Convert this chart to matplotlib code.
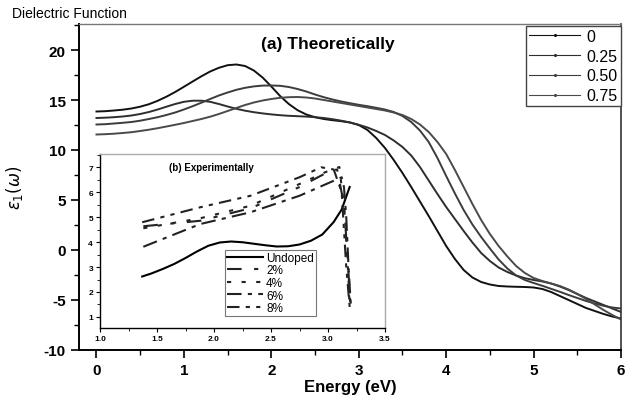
import numpy as np
import matplotlib
matplotlib.use('Agg')
import matplotlib.pyplot as plt
from matplotlib.lines import Line2D
from matplotlib.ticker import MultipleLocator

plt.rcParams['font.family'] = ['Liberation Sans', 'DejaVu Sans']
plt.rcParams['axes.unicode_minus'] = False

# theoretical eps1 vs photon energy, one series per doping level
energy = np.round(np.linspace(0.0, 6.0, 61), 1)
doping_labels = ['0', '0.25', '0.50', '0.75']
eps_0 = [13.85, 13.88, 13.95, 14.03, 14.15, 14.33, 14.58, 14.92, 15.33, 15.8,
         16.32, 16.85, 17.37, 17.85, 18.22, 18.48, 18.55, 18.4, 17.95, 17.25,
         16.35, 15.4, 14.6, 13.98, 13.55, 13.28, 13.1, 12.98, 12.88, 12.75,
         12.5, 12.0, 11.2, 10.2, 9.0, 7.7, 6.3, 4.85, 3.4, 1.9,
         0.4, -0.9, -2.0, -2.75, -3.2, -3.45, -3.6, -3.65, -3.68, -3.7,
         -3.75, -3.9, -4.2, -4.6, -5.0, -5.4, -5.8, -6.1, -6.4, -6.65, -6.85]
eps_25 = [13.2, 13.23, 13.28, 13.35, 13.45, 13.6, 13.8, 14.05, 14.33, 14.6,
          14.82, 14.93, 14.93, 14.82, 14.6, 14.35, 14.12, 13.93, 13.78, 13.66,
          13.56, 13.48, 13.42, 13.38, 13.34, 13.28, 13.2, 13.08, 12.93, 12.75,
          12.52, 12.25, 11.9, 11.5, 10.95, 10.3, 9.45, 8.3, 6.95, 5.6,
          4.3, 3.1, 1.9, 0.75, -0.3, -1.1, -1.75, -2.2, -2.55, -2.82,
          -3.0, -3.15, -3.35, -3.65, -4.0, -4.4, -4.8, -5.15, -5.5, -5.85, -6.2]
eps_50 = [12.55, 12.58, 12.65, 12.72, 12.8, 12.93, 13.1, 13.28, 13.5, 13.75,
          14.05, 14.38, 14.73, 15.1, 15.45, 15.75, 16.02, 16.22, 16.36, 16.44,
          16.45, 16.42, 16.3, 16.1, 15.85, 15.55, 15.28, 15.05, 14.85, 14.68,
          14.52, 14.38, 14.22, 14.05, 13.8, 13.4, 12.8, 11.95, 10.8, 9.2,
          7.4, 5.65, 4.0, 2.55, 1.3, 0.15, -0.95, -1.85, -2.55, -3.0,
          -3.3, -3.58, -3.88, -4.18, -4.5, -4.8, -5.1, -5.35, -5.58, -5.75, -5.85]
eps_75 = [11.55, 11.58, 11.63, 11.7, 11.78, 11.9, 12.03, 12.18, 12.35, 12.52,
          12.7, 12.9, 13.1, 13.33, 13.6, 13.9, 14.2, 14.5, 14.75, 14.95,
          15.1, 15.22, 15.28, 15.3, 15.25, 15.15, 15.0, 14.85, 14.7, 14.55,
          14.4, 14.25, 14.1, 13.95, 13.75, 13.5, 13.1, 12.55, 11.8, 10.8,
          9.6, 8.0, 6.3, 4.6, 3.0, 1.6, 0.4, -0.65, -1.6, -2.3,
          -2.8, -3.1, -3.35, -3.6, -3.95, -4.4, -4.9, -5.45, -6.0, -6.5, -6.95]
theory_series = [eps_0, eps_25, eps_50, eps_75]
theory_colors = ['#111111', '#2e2e2e', '#3c3c3c', '#4a4a4a']

# measured eps1 (inset)
undoped_e = [1.37, 1.45, 1.55, 1.65, 1.75, 1.85, 1.95, 2.05, 2.15, 2.25,
             2.35, 2.45, 2.55, 2.65, 2.75, 2.85, 2.95, 3.05, 3.12, 3.19]
undoped_eps = [2.62, 2.74, 2.92, 3.12, 3.36, 3.62, 3.85, 3.98, 4.02, 3.99,
               3.93, 3.87, 3.82, 3.83, 3.9, 4.05, 4.3, 4.8, 5.3, 6.2]
doped_e = {
    '2%': [1.38, 1.88, 2.32, 2.75, 3.02, 3.08, 3.14, 3.17, 3.2],
    '4%': [1.38, 1.88, 2.32, 2.75, 2.98, 3.1, 3.15, 3.18, 3.19],
    '6%': [1.38, 1.88, 2.32, 2.75, 3.12, 3.14, 3.16, 3.18, 3.2],
    '8%': [1.37, 1.88, 2.32, 2.75, 2.94, 3.05, 3.12, 3.16, 3.19],
}
doped_eps = {
    '2%': [4.63, 4.85, 5.35, 6.2, 6.85, 6.9, 5.5, 3.5, 1.2],
    '4%': [4.55, 4.95, 5.45, 6.32, 6.8, 7.0, 5.0, 2.5, 1.3],
    '6%': [3.81, 4.72, 5.19, 5.85, 6.59, 6.2, 5.0, 3.0, 1.5],
    '8%': [4.79, 5.39, 5.85, 6.59, 6.99, 6.9, 6.0, 3.0, 1.4],
}
doped_styles = {
    '2%': (0, (7, 6, 2, 6)),
    '4%': (0, (2, 5)),
    '6%': (0, (7, 3, 2, 3)),
    '8%': (0, (6, 3, 2, 3, 2, 3)),
}

fig = plt.figure(figsize=(6.35, 4.02), dpi=100)
ax = fig.add_axes([0.1244, 0.1269, 0.8536, 0.8109])

for eps, col in zip(theory_series, theory_colors):
    ax.plot(energy, eps, color=col, lw=1.4)

ax.set_xlim(-0.2, 6.0)
ax.set_ylim(-10, 22.6)
ax.xaxis.set_major_locator(MultipleLocator(1))
ax.xaxis.set_minor_locator(MultipleLocator(0.5))
ax.yaxis.set_major_locator(MultipleLocator(5))
ax.yaxis.set_minor_locator(MultipleLocator(2.5))
ax.tick_params(which='major', direction='out', length=6, width=1.2, labelsize=11)
ax.tick_params(which='minor', direction='out', length=3.5, width=1.0)
for lab in ax.get_xticklabels() + ax.get_yticklabels():
    lab.set_fontweight('bold')
for side in ['left', 'bottom']:
    ax.spines[side].set_linewidth(1.4)
ax.spines['right'].set_linewidth(1.2)
ax.spines['right'].set_color('#333333')
ax.spines['top'].set_linewidth(1.0)
ax.spines['top'].set_color('#777777')

ax.set_xlabel('Energy (eV)', fontsize=12, fontweight='bold')
ax.set_ylabel(r'$\epsilon_1(\omega)$', fontsize=12)
ax.xaxis.set_label_coords(0.5, -0.09)
ax.yaxis.set_label_coords(-0.1, 0.5)

ax.text(0.459, 0.939, '(a) Theoretically', transform=ax.transAxes,
        ha='center', va='center', fontsize=12.5, fontweight='bold')
fig.text(0.019, 0.965, 'Dielectric Function', ha='left', va='center', fontsize=10)

handles = [Line2D([], [], color=c, lw=0.8, marker='.', markersize=2.5)
           for c in theory_colors]
leg = ax.legend(handles, doping_labels, loc='upper right', bbox_to_anchor=(1.0, 0.995),
                borderaxespad=0.0, fontsize=11.5, handlelength=3.2, handletextpad=0.4,
                labelspacing=0.3, borderpad=0.2, fancybox=False, framealpha=1)
leg.get_frame().set_edgecolor('#444444')
leg.get_frame().set_linewidth(1.0)

# inset with the measured curves
ins = fig.add_axes([0.1575, 0.1816, 0.4488, 0.4328])
ins.plot(undoped_e, undoped_eps, color='black', lw=1.5, label='Undoped')
for key in ['2%', '4%', '6%', '8%']:
    ins.plot(doped_e[key], doped_eps[key], color='#222222', lw=1.5,
             linestyle=doped_styles[key], label=key)
ins.set_xlim(1.0, 3.5)
ins.set_ylim(0.56, 7.52)
ins.xaxis.set_major_locator(MultipleLocator(0.5))
ins.xaxis.set_minor_locator(MultipleLocator(0.25))
ins.yaxis.set_major_locator(MultipleLocator(1))
ins.yaxis.set_minor_locator(MultipleLocator(0.5))
ins.xaxis.set_major_formatter('{x:.1f}')
ins.tick_params(which='major', direction='out', length=3, width=0.8, labelsize=6, pad=2)
ins.tick_params(which='minor', direction='out', length=2, width=0.6)
for lab in ins.get_xticklabels() + ins.get_yticklabels():
    lab.set_fontweight('bold')
for side in ['left', 'bottom']:
    ins.spines[side].set_linewidth(1.0)
for side in ['top', 'right']:
    ins.spines[side].set_color('#aaaaaa')
    ins.spines[side].set_linewidth(1.0)
ins.text(0.391, 0.925, '(b) Experimentally', transform=ins.transAxes,
         ha='center', va='center', fontsize=7, fontweight='bold')
ileg = ins.legend(loc='lower left', bbox_to_anchor=(0.44, 0.069), borderaxespad=0.0,
                  fontsize=8.5, handlelength=3.0, handletextpad=0.3, labelspacing=0.05,
                  borderpad=0.15, fancybox=False, framealpha=1)
ileg.get_frame().set_edgecolor('#777777')
ileg.get_frame().set_linewidth(0.8)

fig.savefig('out.png', dpi=100)
